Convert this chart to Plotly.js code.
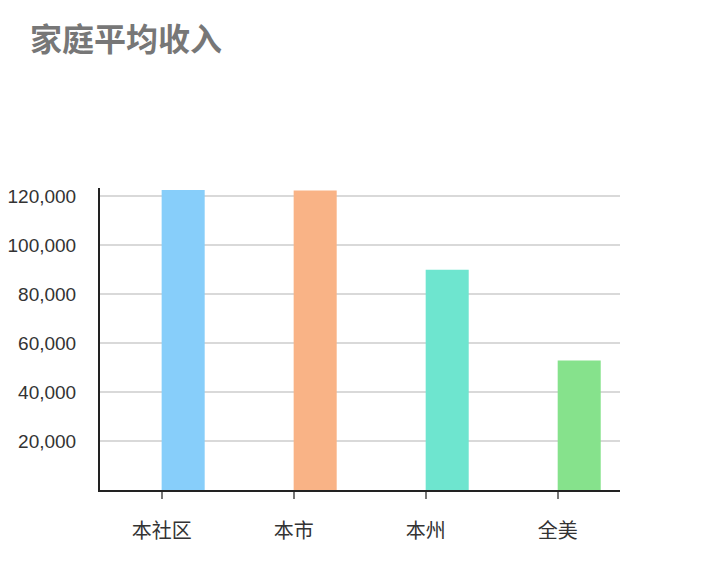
<!DOCTYPE html>
<html>
<head>
<meta charset="utf-8">
<script src="https://cdn.plot.ly/plotly-3.0.1.min.js"></script>
<style>
  body { margin: 0; background: #fff; }
  #plot { width: 720px; height: 562px; }
</style>
</head>
<body>
<div id="plot"></div>
<script>
const categories = ['本社区', '本市', '本州', '全美'];
const incomes = [122600, 122400, 90000, 52900];
const barColors = ['#87cefa', '#f9b386', '#6ee5cf', '#86e28c'];
const yTicks = [20000, 40000, 60000, 80000, 100000, 120000];
const yTickText = ['20,000', '40,000', '60,000', '80,000', '100,000', '120,000'];

const fontFamily = '"Liberation Sans", "Noto Sans CJK SC", sans-serif';

const trace = {
  type: 'bar',
  x: [0, 1, 2, 3],
  y: incomes,
  offset: 0,
  width: 0.326,
  marker: { color: barColors, line: { width: 0 } },
  hoverinfo: 'y'
};

const layout = {
  width: 720,
  height: 562,
  margin: { l: 100, r: 100, t: 188, b: 72 },
  paper_bgcolor: '#fff',
  plot_bgcolor: '#fff',
  showlegend: false,
  font: { family: fontFamily, color: '#333', size: 16 },
  title: {
    text: '家庭平均收入',
    font: { family: '"Noto Sans CJK SC", sans-serif', size: 32, color: '#777', weight: 'bold' },
    x: 30 / 720,
    xref: 'container',
    xanchor: 'left',
    y: 1 - 40 / 562,
    yref: 'container',
    yanchor: 'middle'
  },
  xaxis: {
    range: [-0.467, 3.472],
    tickmode: 'array',
    tickvals: [0, 1, 2, 3],
    ticktext: categories,
    ticks: 'outside',
    ticklen: 7,
    tickwidth: 2,
    tickcolor: '#777',
    ticklabelstandoff: 15,
    showgrid: false,
    showline: true,
    linecolor: '#222',
    linewidth: 2,
    zeroline: false,
    fixedrange: true,
    tickfont: { family: '"Noto Sans CJK SC", sans-serif', size: 20, color: '#333' }
  },
  yaxis: {
    range: [0, 123400],
    tickmode: 'array',
    tickvals: yTicks,
    ticktext: yTickText,
    ticks: '',
    ticklabelstandoff: 18,
    showgrid: true,
    gridcolor: '#d9d9d9',
    gridwidth: 2,
    showline: true,
    linecolor: '#222',
    linewidth: 2,
    zeroline: false,
    fixedrange: true,
    tickfont: { family: fontFamily, size: 19, color: '#333' }
  }
};

Plotly.newPlot('plot', [trace], layout, { displayModeBar: false, staticPlot: true });
</script>
</body>
</html>
